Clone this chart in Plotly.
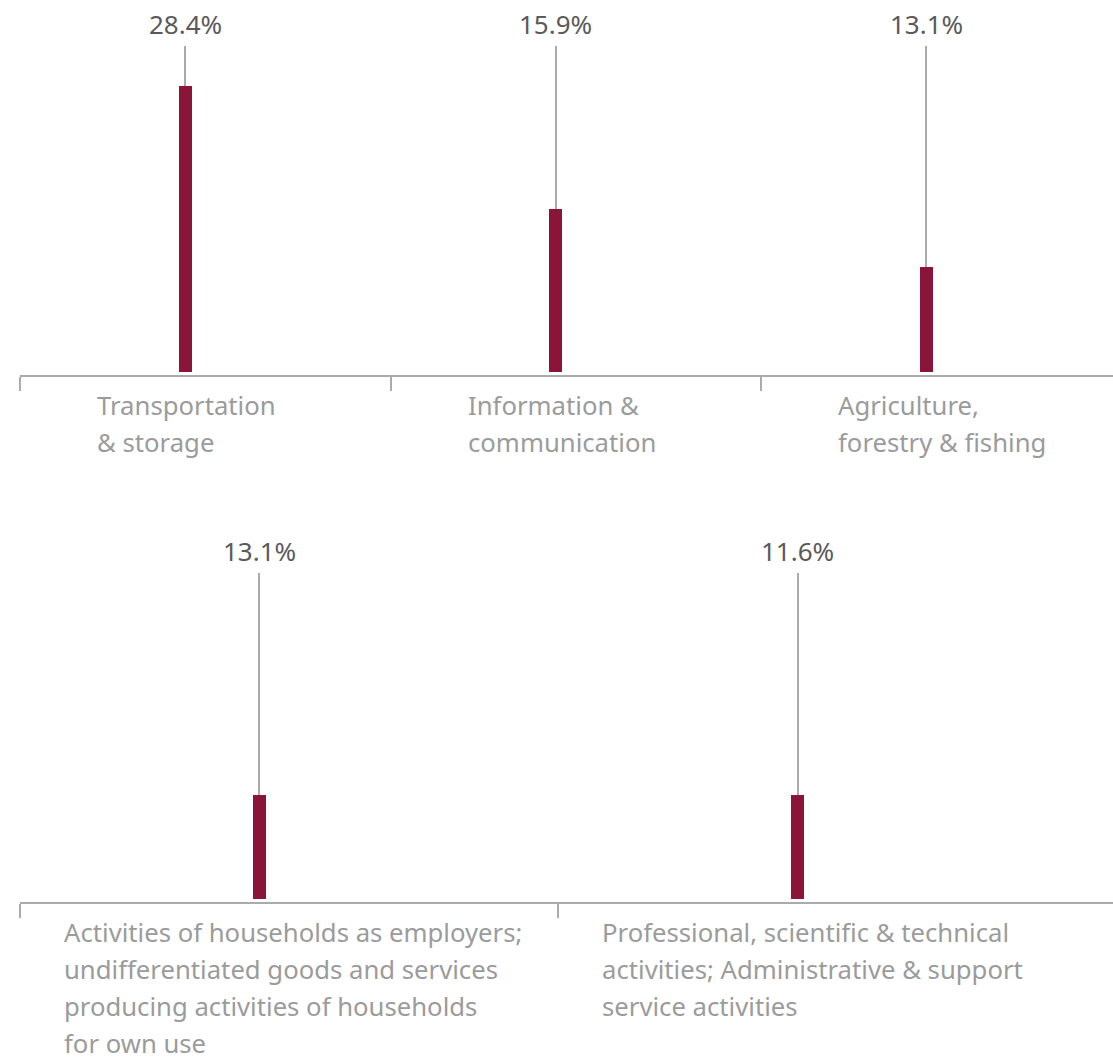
import plotly.graph_objects as go

# ---------------- data ----------------
top_categories = ["Transportation<br>& storage",
                  "Information &<br>communication",
                  "Agriculture,<br>forestry & fishing"]
top_share_labels = ["28.4%", "15.9%", "13.1%"]
top_bar_values = [28.4, 16.2, 10.4]

bottom_categories = ["Activities of households as employers;<br>undifferentiated goods and services<br>producing activities of households<br>for own use",
                     "Professional, scientific & technical<br>activities; Administrative & support<br>service activities"]
bottom_share_labels = ["13.1%", "11.6%"]
bottom_bar_values = [10.3, 10.3]

# ---------------- style ----------------
BAR_COLOR = "#8b1538"
LINE_COLOR = "#ababab"
VALUE_COLOR = "#5a5a5a"
CAT_COLOR = "#9b9b9b"
FONT = "Noto Sans"
W, H = 1113, 1059
LEADER_TOP = 32.4
LABEL_LEVEL = 34.6
YRANGE = [-0.3, 36.94]

fig = go.Figure()

rows = [
    dict(cats=top_categories, labels=top_share_labels, vals=top_bar_values,
         xa="x", ya="y", dom_y=[(H - 375) / H, 1.0], shift_px=-20, lab_px=76,
         extra=-0.05),
    dict(cats=bottom_categories, labels=bottom_share_labels, vals=bottom_bar_values,
         xa="x2", ya="y2", dom_y=[(H - 902) / H, (H - 527) / H], shift_px=-30, lab_px=43,
         extra=0.03),
]

annotations = []
for r_i, row in enumerate(rows):
    n = len(row["vals"])
    xs = list(range(n))
    plot_w = W - 20
    xr = [-0.5, n - 0.5 + row["extra"]]
    px_per_cat = plot_w / (xr[1] - xr[0])
    bar_w = 13 / px_per_cat
    offset = row["shift_px"] / px_per_cat - bar_w / 2
    fig.add_trace(go.Bar(
        x=xs, y=row["vals"], xaxis=row["xa"], yaxis=row["ya"],
        width=bar_w, offset=offset,
        marker=dict(color=BAR_COLOR, line=dict(width=0)),
        error_y=dict(type="data", symmetric=False,
                     array=[LEADER_TOP - v for v in row["vals"]],
                     arrayminus=[0] * n, color=LINE_COLOR, thickness=2, width=0),
        hoverinfo="skip", showlegend=False,
    ))
    for i in range(n):
        annotations.append(dict(
            x=i, y=LABEL_LEVEL, xref=row["xa"], yref=row["ya"],
            xshift=row["shift_px"], text=row["labels"][i], showarrow=False,
            xanchor="center", yanchor="middle", borderpad=0,
            font=dict(family=FONT, size=26, color=VALUE_COLOR)))
        for j, line in enumerate(row["cats"][i].split("<br>")):
            annotations.append(dict(
                x=i - 0.5, y=0, xref=row["xa"], yref=row["ya"],
                xshift=row["lab_px"], yshift=-34 - 37 * j, text=line,
                showarrow=False, xanchor="left", yanchor="middle", align="left",
                borderpad=0,
                font=dict(family=FONT, size=25.7, color=CAT_COLOR)))

    ax = dict(domain=[20 / W, 1.0], range=xr,
              tickvals=[i - 0.5 for i in range(n)], showticklabels=False,
              ticks="outside", ticklen=14, tickwidth=2, tickcolor=LINE_COLOR,
              showline=True, linecolor=LINE_COLOR, linewidth=2,
              showgrid=False, zeroline=False, fixedrange=True,
              anchor=row["ya"])
    ay = dict(domain=row["dom_y"], range=YRANGE, visible=False,
              showgrid=False, zeroline=False, fixedrange=True, anchor=row["xa"])
    key = "" if r_i == 0 else str(r_i + 1)
    fig.layout["xaxis" + key] = ax
    fig.layout["yaxis" + key] = ay

fig.update_layout(
    width=W, height=H, margin=dict(l=0, r=0, t=0, b=0),
    paper_bgcolor="white", plot_bgcolor="white",
    font=dict(family=FONT), annotations=annotations,
    bargap=0,
)

fig.write_html("out.html")
